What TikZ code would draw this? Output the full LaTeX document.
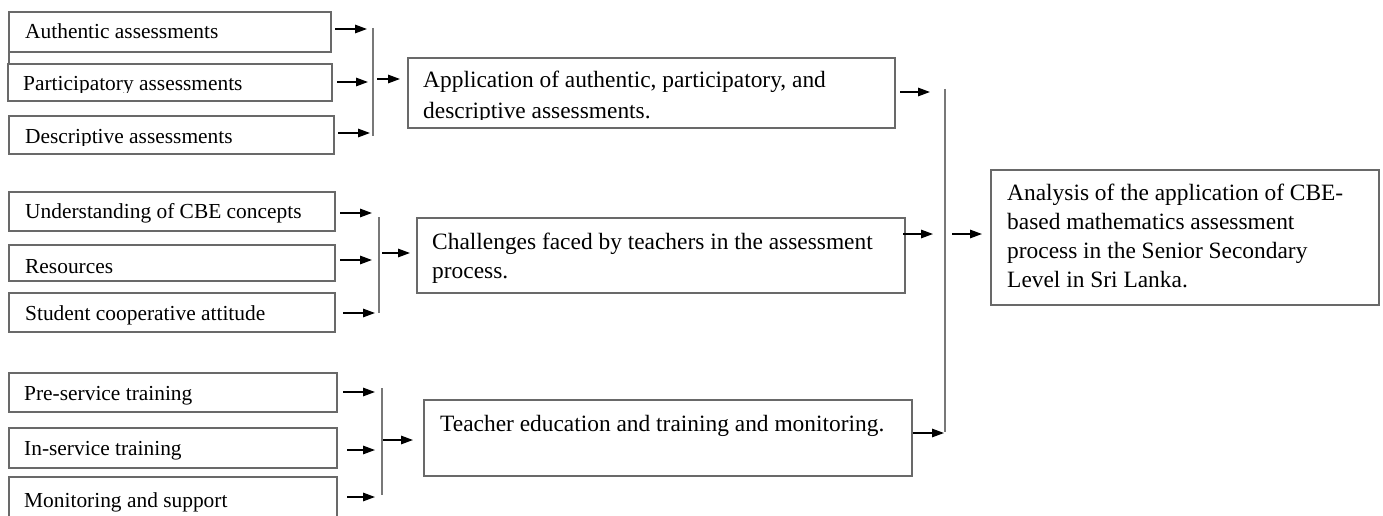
\documentclass[tikz,border=0pt]{standalone}
\usepackage{fontspec}
\setmainfont{Liberation Serif}
\usetikzlibrary{arrows.meta}
\definecolor{boxgray}{RGB}{105,105,105}
\definecolor{bargray}{RGB}{120,120,120}
\begin{document}
\begin{tikzpicture}[x=1pt,y=-1pt,
  box/.style={draw=boxgray, line width=1.1pt, rectangle, inner sep=0pt, outer sep=0pt, anchor=north west},
  small/.style={font=\fontsize{21.4}{26}\selectfont, anchor=base west, inner sep=0pt},
  big/.style={font=\fontsize{23.4}{29.5}\selectfont, anchor=base west, inner sep=0pt},
  link/.style={line width=1.4pt, -{Triangle[length=12pt,width=8.5pt]}},
  bar/.style={draw=bargray, line width=1.1pt}]
\useasboundingbox (0,0) rectangle (1383,516);

% ---- boxes ----
\node[box, minimum width=322pt, minimum height=40pt] (a1) at (9,12) {};
\node[box, minimum width=324pt, minimum height=37pt] (a2) at (8,64) {};
\node[box, minimum width=325pt, minimum height=38pt] (a3) at (9,116) {};
\node[box, minimum width=487pt, minimum height=70pt] (app) at (408,58) {};

\node[box, minimum width=326pt, minimum height=39pt] (b1) at (9,192) {};
\node[box, minimum width=326pt, minimum height=36pt] (b2) at (9,245) {};
\node[box, minimum width=326pt, minimum height=39pt] (b3) at (9,293) {};
\node[box, minimum width=488pt, minimum height=75pt] (ch) at (417,218) {};

\node[box, minimum width=328pt, minimum height=39pt] (c1) at (9,373) {};
\node[box, minimum width=328pt, minimum height=40pt] (c2) at (9,428) {};
\node[box, minimum width=328pt, minimum height=43pt] (c3) at (9,477) {};
\node[box, minimum width=488pt, minimum height=76pt] (te) at (424,400) {};

\node[box, minimum width=388pt, minimum height=135pt] (an) at (991,170) {};

% small stub under the first box
\draw[draw=boxgray, line width=1.1pt] (a1.south west) -- ++(0,12);

% ---- texts ----
\node[small] (ta1) at (25,39) {Authentic assessments};
\begin{scope}
  \clip (0,60) rectangle (340,92.5);
  \node[small] (ta2) at (23,91) {Participatory assessments};
\end{scope}
\begin{scope}
  \clip (0,110) rectangle (340,145);
  \node[small] (ta3) at (25,143) {Descriptive assessments};
\end{scope}
\node[big] (tapp1) at (423,88) {Application of authentic, participatory, and};
\begin{scope}
  \clip (400,95) rectangle (900,120);
  \node[big] (tapp2) at (423,118) {descriptive assessments.};
\end{scope}

\node[small] (tb1) at (25,218) {Understanding of CBE concepts};
\node[small] (tb2) at (25,273) {Resources};
\node[small] (tb3) at (25,320) {Student cooperative attitude};
\node[big] (tch1) at (432,249) {Challenges faced by teachers in the assessment};
\node[big] (tch2) at (432,278) {process.};

\node[small] (tc1) at (24,400) {Pre-service training};
\node[small] (tc2) at (24,455) {In-service training};
\node[small] (tc3) at (24,507) {Monitoring and support};
\node[big] (tte) at (440,431) {Teacher education and training and monitoring.};

\node[big] (tan1) at (1007,200) {Analysis of the application of CBE-};
\node[big] (tan2) at (1007,229) {based mathematics assessment};
\node[big] (tan3) at (1007,258) {process in the Senior Secondary};
\node[big] (tan4) at (1007,287) {Level in Sri Lanka.};

% ---- joining bars ----
\coordinate (j1t) at (373,28);  \coordinate (j1b) at (373,136);
\coordinate (j2t) at (379,217); \coordinate (j2b) at (379,313);
\coordinate (j3t) at (382,388); \coordinate (j3b) at (382,495);
\coordinate (jrt) at (945,89);  \coordinate (jrb) at (945,432);
\draw[bar] (j1t) -- (j1b);
\draw[bar] (j2t) -- (j2b);
\draw[bar] (j3t) -- (j3b);
\draw[bar] (jrt) -- (jrb);

% ---- arrows ----
\draw[link] ([shift={(4,-3)}]a1.east) -- ++(32,0);
\draw[link] ([shift={(5,-0.5)}]a2.east) -- ++(31,0);
\draw[link] ([shift={(4,-2)}]a3.east) -- ++(32,0);
\draw[link] ([shift={(4,-14)}]j1t |- app.west) -- ++(23,0);
\draw[link] ([shift={(5,-1)}]app.east) -- ++(30,0);

\draw[link] ([shift={(5,1.5)}]b1.east) -- ++(32,0);
\draw[link] ([shift={(5,-3)}]b2.east) -- ++(32,0);
\draw[link] ([shift={(8,0.5)}]b3.east) -- ++(32,0);
\draw[link] ([shift={(3,-2.5)}]j2t |- ch.west) -- ++(28,0);
\draw[link] ([shift={(-2,-21.5)}]ch.east) -- ++(30,0);

\draw[link] ([shift={(6,-0.5)}]c1.east) -- ++(32,0);
\draw[link] ([shift={(10,2)}]c2.east) -- ++(28,0);
\draw[link] ([shift={(10,-1.5)}]c3.east) -- ++(28,0);
\draw[link] ([shift={(1,2)}]j3t |- te.west) -- ++(30,0);
\draw[link] ([shift={(1,-5)}]te.east) -- ++(31,0);

\draw[link] ([shift={(7,-3.5)}]jrt |- an.west) -- ++(30,0);
\end{tikzpicture}
\end{document}
